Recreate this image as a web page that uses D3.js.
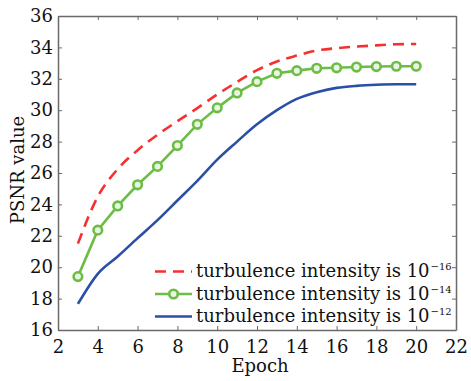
<!DOCTYPE html>
<html>
<head>
<meta charset="utf-8">
<script src="https://cdn.jsdelivr.net/npm/d3@7"></script>
<style>
body{margin:0;background:#fff;}
svg{display:block;font-family:"DejaVu Serif",serif;}
</style>
</head>
<body>
<svg id="chart" width="471" height="381"></svg>
<script>
// data
var epochs = [3,4,5,6,7,8,9,10,11,12,13,14,15,16,17,18,19,20];
var psnr16 = [21.5,24.5,26.25,27.45,28.43,29.3,30.13,31.0,31.8,32.55,33.1,33.48,33.8,33.95,34.05,34.13,34.2,34.22];
var psnr14 = [19.4,22.36,23.9,25.25,26.42,27.75,29.1,30.15,31.1,31.82,32.35,32.52,32.67,32.7,32.75,32.78,32.8,32.8];
var psnr12 = [17.66,19.58,20.68,21.85,23.0,24.25,25.5,26.85,28.0,29.1,30.0,30.72,31.15,31.42,31.55,31.62,31.65,31.65];
var xTicks = [2,4,6,8,10,12,14,16,18,20,22];
var yTicks = [16,18,20,22,24,26,28,30,32,34,36];
var legendLabels = ["turbulence intensity is 10","turbulence intensity is 10","turbulence intensity is 10"];
var legendExps = ["\u221216","\u221214","\u221212"];

(function(){
	var m = {left:58, top:16, right:456, bottom:330};
	var svg = d3.select("#chart");
	var x = d3.scaleLinear().domain([2,22]).range([m.left,m.right]);
	var y = d3.scaleLinear().domain([16,36]).range([m.bottom,m.top]);
	var frame = "#6a6a6a";

	function styleAxis(g){
		g.selectAll("path.domain").attr("stroke",frame).attr("stroke-width",1.5);
		g.selectAll(".tick line").attr("stroke",frame).attr("stroke-width",1);
		g.selectAll("text").attr("fill","#111").attr("font-size",18).attr("font-family","DejaVu Serif");
	}

	var gx = svg.append("g").attr("transform","translate(0,"+m.bottom+")")
		.call(d3.axisBottom(x).tickValues(xTicks).tickSizeInner(-4).tickSizeOuter(0).tickPadding(10));
	styleAxis(gx);
	var gy = svg.append("g").attr("transform","translate("+m.left+",0)")
		.call(d3.axisLeft(y).tickValues(yTicks).tickSizeInner(-4).tickSizeOuter(0).tickPadding(5));
	styleAxis(gy);
	var gt = svg.append("g").attr("transform","translate(0,"+m.top+")")
		.call(d3.axisTop(x).tickValues(xTicks).tickSizeInner(-4).tickSizeOuter(0).tickFormat(""));
	styleAxis(gt);
	var gr = svg.append("g").attr("transform","translate("+m.right+",0)")
		.call(d3.axisRight(y).tickValues(yTicks).tickSizeInner(-4).tickSizeOuter(0).tickFormat(""));
	styleAxis(gr);

	// axis titles
	svg.append("text").attr("x",(m.left+m.right)/2+3).attr("y",372)
		.attr("text-anchor","middle").attr("font-size",18).attr("fill","#111").text("Epoch");
	svg.append("text").attr("transform","translate(24,"+((m.top+m.bottom)/2-3)+") rotate(-90)")
		.attr("text-anchor","middle").attr("font-size",18).attr("fill","#111").text("PSNR value");

	var series = [
		{vals:psnr16, color:"#f4312f", dash:"11,7", curve:d3.curveMonotoneX, marker:false},
		{vals:psnr14, color:"#6cbd45", dash:null, curve:d3.curveLinear, marker:true},
		{vals:psnr12, color:"#2a4fa6", dash:null, curve:d3.curveMonotoneX, marker:false}
	];

	series.forEach(function(s){
		var pts = epochs.map(function(e,i){return [e,s.vals[i]];});
		var line = d3.line().x(function(d){return x(d[0]);}).y(function(d){return y(d[1]);}).curve(s.curve);
		svg.append("path").datum(pts).attr("d",line)
			.attr("fill","none").attr("stroke",s.color).attr("stroke-width",2.6)
			.attr("stroke-dasharray",s.dash);
		if(s.marker){
			svg.selectAll(null).data(pts).enter().append("circle")
				.attr("cx",function(d){return x(d[0]);}).attr("cy",function(d){return y(d[1]);})
				.attr("r",4.3).attr("fill","#e9f5e2").attr("stroke",s.color).attr("stroke-width",2.6);
		}
	});

	// legend
	var lg = svg.append("g");
	series.forEach(function(s,i){
		var base = 277 + i*22.5;
		var ly = base - 5.5;
		lg.append("line").attr("x1",155).attr("x2",192).attr("y1",ly).attr("y2",ly)
			.attr("stroke",s.color).attr("stroke-width",2.6).attr("stroke-dasharray",s.dash);
		if(s.marker){
			lg.append("circle").attr("cx",173.5).attr("cy",ly).attr("r",4.3)
				.attr("fill","#e9f5e2").attr("stroke",s.color).attr("stroke-width",2.6);
		}
		var t = lg.append("text").attr("x",196).attr("y",base).attr("font-size",18).attr("fill","#111");
		t.append("tspan").text(legendLabels[i]);
		t.append("tspan").attr("dx",1).attr("dy",-7).attr("font-size",10).text(legendExps[i]);
	});
}());
</script>
</body>
</html>
